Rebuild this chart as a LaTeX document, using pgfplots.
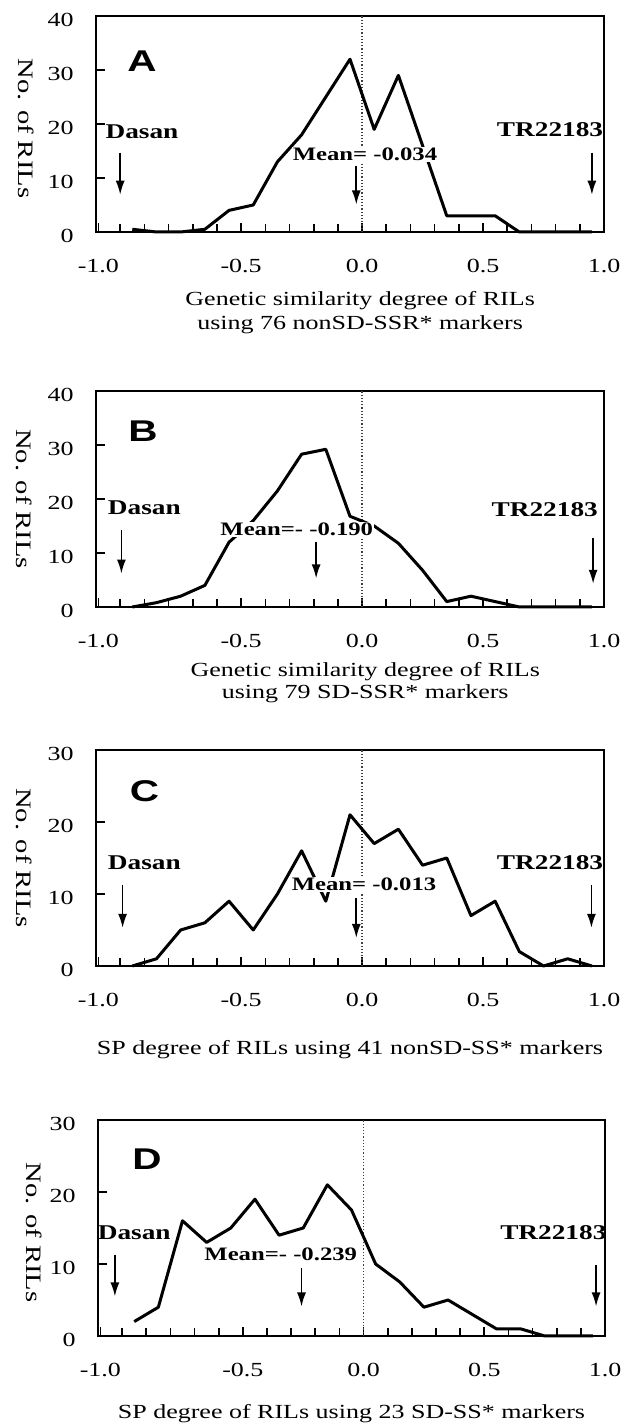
\documentclass[border=0pt]{standalone}
\usepackage{fontspec}
\setmainfont{Liberation Serif}[FakeStretch=1.3]
\newfontfamily\panelsans{Liberation Sans}[FakeStretch=1.35]
\usepackage{pgfplots}
\pgfplotsset{compat=1.18}
\usetikzlibrary{arrows.meta}

\newcommand{\lab}{\fontsize{10.5}{12}\selectfont\bfseries}
\newcommand{\meanf}{\fontsize{9.5}{11}\selectfont\bfseries}
\newcommand{\ylab}{\fontsize{11}{12}\selectfont}
\newcommand{\panel}[1]{{\panelsans\bfseries\fontsize{15}{15}\selectfont #1}}

\pgfplotsset{
  rilaxis/.style={
    scale only axis, width=254pt, height=108pt,
    xmin=-1.1, xmax=1.0, ymin=0,
    xtick={-1.09,-0.5,0,0.5,1}, xticklabels={-1.0,-0.5,0.0,0.5,1.0},
    minor xtick={-1,-0.9,-0.8,-0.7,-0.6,-0.5,-0.4,-0.3,-0.2,-0.1,0,0.1,0.2,0.3,0.4,0.5,0.6,0.7,0.8,0.9},
    tick align=inside, xtick pos=bottom, ytick pos=left,
    major tick length=4.5pt, minor tick length=4pt,
    axis line style={line width=0.7pt},
    tick style={black, line width=0.8pt},
    /pgf/number format/assume math mode=true,
    ticklabel style={font=\fontsize{10}{12}\selectfont},
    xticklabel style={anchor=base, yshift=-20.5pt},
    yticklabel style={xshift=-7.7pt, yshift=-2pt},
    clip=false,
  },
  curve/.style={black, line width=1.5pt, line join=round, no markers},
}
\tikzset{
  zero/.style={densely dotted, line width=0.6pt, black!75},
  arr/.style={-{Latex[length=7pt,width=4.5pt]}, line width=0.8pt},
}

\begin{document}
\begin{tikzpicture}
\useasboundingbox (0,0) rectangle (310.5pt,714pt);

% A
\begin{axis}[rilaxis, at={(48pt,598pt)}, anchor=south west, ymax=40, ytick={0,10,20,30,40}]
\draw[zero] (axis cs:0,0) -- (axis cs:0,40);
\addplot[curve] coordinates {(-0.95,0.5)(-0.85,0)(-0.75,0)(-0.65,0.5)(-0.55,4)(-0.45,5)(-0.35,13)(-0.25,18)(-0.15,25)(-0.05,32)(0.05,19)(0.15,29)(0.25,16)(0.35,3)(0.45,3)(0.55,3)(0.65,0)(0.75,0)(0.85,0)(0.95,0)};
\node at (axis cs:-0.91,31.6) {\panel{A}};
\node[font=\lab] at (axis cs:-0.91,18.5) {Dasan};
\draw[arr] (axis cs:-1,14.7) -- (axis cs:-1,6.9);
\node[font=\lab] at (axis cs:0.777,19) {TR22183};
\draw[arr] (axis cs:0.95,14.7) -- (axis cs:0.95,6.9);
\node[font=\meanf, fill=white, inner sep=0.5pt] at (axis cs:0.012,14.3) {Mean= -0.034};
\draw[arr] (axis cs:-0.024,12.3) -- (axis cs:-0.024,5.1);
\node[rotate=-90, font=\ylab] at ([xshift=-35pt]rel axis cs:0,0.48) {No. of RILs};
\node[anchor=base] at ([yshift=-37pt]rel axis cs:0.52,0) {Genetic similarity degree of RILs};
\node[anchor=base] at ([yshift=-49pt]rel axis cs:0.52,0) {using 76 nonSD-SSR* markers};
\end{axis}

% B
\begin{axis}[rilaxis, at={(48pt,410.5pt)}, anchor=south west, ymax=40, ytick={0,10,20,30,40}]
\draw[zero] (axis cs:0,0) -- (axis cs:0,40);
\addplot[curve] coordinates {(-0.95,0)(-0.85,0.8)(-0.75,2)(-0.65,4)(-0.55,12)(-0.45,16)(-0.35,21.5)(-0.25,28.3)(-0.15,29.2)(-0.05,16.8)(0.05,15)(0.15,11.8)(0.25,6.8)(0.35,1)(0.45,2)(0.55,1)(0.65,0)(0.75,0)(0.85,0)(0.95,0)};
\node at (axis cs:-0.906,32.6) {\panel{B}};
\node[font=\lab] at (axis cs:-0.9,18.3) {Dasan};
\draw[arr] (axis cs:-0.995,14.3) -- (axis cs:-0.995,6.2);
\node[font=\lab] at (axis cs:0.755,18) {TR22183};
\draw[arr] (axis cs:0.955,12.7) -- (axis cs:0.955,4.3);
\node[font=\meanf, fill=white, inner sep=0.5pt] at (axis cs:-0.27,14.3) {Mean=- -0.190};
\draw[arr] (axis cs:-0.19,12.1) -- (axis cs:-0.19,5.3);
\node[rotate=-90, font=\ylab] at ([xshift=-36pt]rel axis cs:0,0.5) {No. of RILs};
\node[anchor=base] at ([yshift=-35pt]rel axis cs:0.53,0) {Genetic similarity degree of RILs};
\node[anchor=base] at ([yshift=-46pt]rel axis cs:0.53,0) {using 79 SD-SSR* markers};
\end{axis}

% C
\begin{axis}[rilaxis, at={(48pt,231pt)}, anchor=south west, ymax=30, ytick={0,10,20,30}]
\draw[zero] (axis cs:0,0) -- (axis cs:0,30);
\addplot[curve] coordinates {(-0.95,0)(-0.85,1)(-0.75,5)(-0.65,6)(-0.55,9)(-0.45,5)(-0.35,10)(-0.25,16)(-0.15,9)(-0.05,21)(0.05,17)(0.15,19)(0.25,14)(0.35,15)(0.45,7)(0.55,9)(0.65,2)(0.75,0)(0.85,1)(0.95,0)};
\node at (axis cs:-0.9,24.3) {\panel{C}};
\node[font=\lab] at (axis cs:-0.9,14.3) {Dasan};
\draw[arr] (axis cs:-0.99,11.3) -- (axis cs:-0.99,5.3);
\node[font=\lab] at (axis cs:0.777,14.3) {TR22183};
\draw[arr] (axis cs:0.948,11.3) -- (axis cs:0.948,5.3);
\node[font=\meanf, fill=white, inner sep=0.5pt] at (axis cs:0.008,11.3) {Mean= -0.013};
\draw[arr] (axis cs:-0.024,9.4) -- (axis cs:-0.024,3.9);
\node[rotate=-90, font=\ylab] at ([xshift=-36pt]rel axis cs:0,0.5) {No. of RILs};
\node[anchor=base] at ([yshift=-44.5pt]rel axis cs:0.5,0) {SP degree of RILs using 41 nonSD-SS* markers};
\end{axis}

% D
\begin{axis}[rilaxis, at={(49pt,46pt)}, anchor=south west, width=253.5pt, ymax=30, ytick={0,10,20,30}]
\draw[zero] (axis cs:0,0) -- (axis cs:0,30);
\addplot[curve] coordinates {(-0.95,2)(-0.85,4)(-0.75,16)(-0.65,13)(-0.55,15)(-0.45,19)(-0.35,14)(-0.25,15)(-0.15,21)(-0.05,17.5)(0.05,10)(0.15,7.5)(0.25,4)(0.35,5)(0.45,3)(0.55,1)(0.65,1)(0.75,0)(0.85,0)(0.95,0)};
\node at (axis cs:-0.897,24.6) {\panel{D}};
\node[font=\lab] at (axis cs:-0.95,14.3) {Dasan};
\draw[arr] (axis cs:-1.03,11.3) -- (axis cs:-1.03,5.5);
\node[font=\lab] at (axis cs:0.786,14.3) {TR22183};
\draw[arr] (axis cs:0.963,9.9) -- (axis cs:0.963,4.1);
\node[font=\meanf, fill=white, inner sep=0.5pt] at (axis cs:-0.343,11.3) {Mean=- -0.239};
\draw[arr] (axis cs:-0.257,9.4) -- (axis cs:-0.257,4.1);
\node[rotate=-90, font=\ylab] at ([xshift=-32pt]rel axis cs:0,0.48) {No. of RILs};
\node[anchor=base] at ([yshift=-41.5pt]rel axis cs:0.5,0) {SP degree of RILs using 23 SD-SS* markers};
\end{axis}
\end{tikzpicture}
\end{document}
